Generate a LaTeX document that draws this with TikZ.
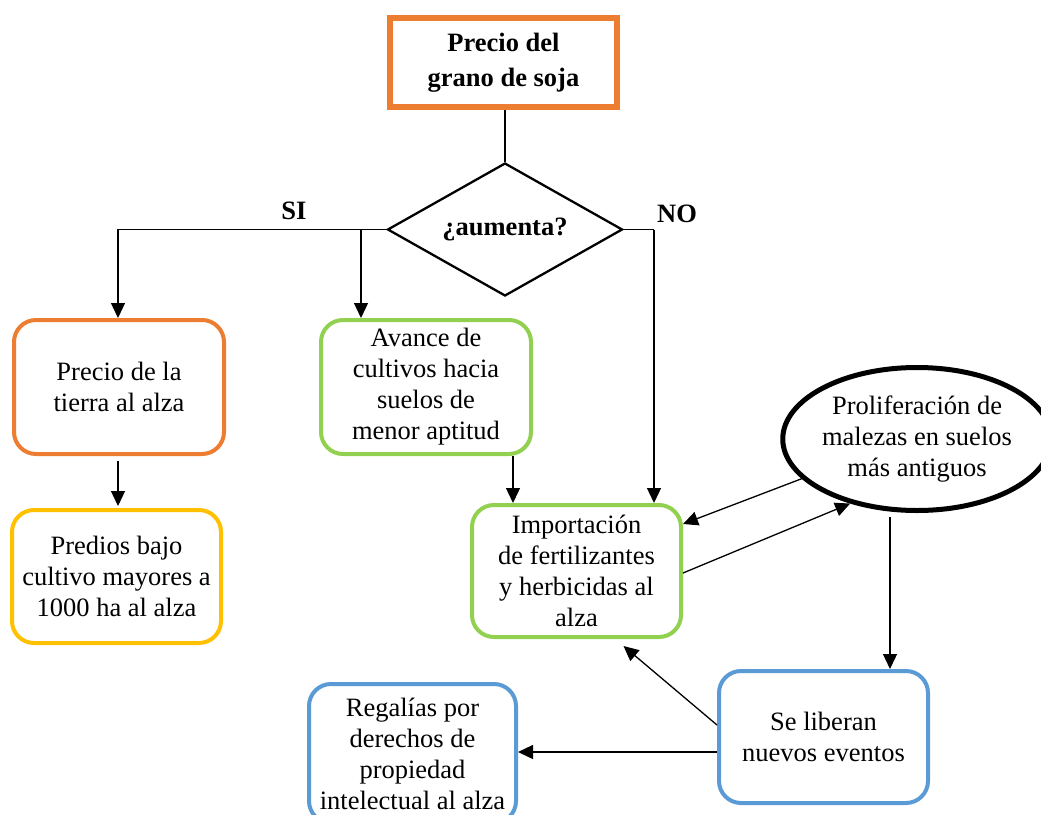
\documentclass[tikz,border=0pt]{standalone}
\usepackage{fontspec}
\setmainfont{Liberation Serif}
\usetikzlibrary{arrows.meta,shapes.geometric}
\definecolor{orng}{HTML}{ED7D31}
\definecolor{grn}{HTML}{92D050}
\definecolor{ylw}{HTML}{FFC000}
\definecolor{blu}{HTML}{5B9BD5}
\newcommand\mytxt{\fontsize{26.5}{31}\selectfont}
\newcommand\mybold{\fontsize{26.5}{35}\selectfont\bfseries}
\begin{document}
\begin{tikzpicture}[x=1pt,y=-1pt,
  rbox/.style={draw, line width=4pt, rounded corners=22pt, align=center, inner sep=0pt,
    font=\mytxt, minimum width=210pt, minimum height=134pt},
  conn/.style={line width=1.3pt, black},
  arr/.style={conn, -{Triangle[length=15pt,width=14pt]}},
  lbl/.style={font=\mybold, anchor=base, inner sep=0pt}]
\useasboundingbox[fill=white] (0,0) rectangle (1041,814);

% nodes
\node[draw=orng, line width=6pt, minimum width=227pt, minimum height=89pt, inner sep=0pt,
  align=center, font=\mybold] (top) at (503.5,62.5) {Precio del\\grano de soja};
\node[diamond, draw, line width=2.3pt, minimum width=235pt, minimum height=133pt, aspect=1.76,
  inner sep=0pt, font=\mybold] (dia) at (505,229.5) {¿aumenta?};
\node[rbox, draw=orng] (b1) at (119,387) {Precio de la\\tierra al alza};
\node[rbox, draw=ylw, minimum width=209pt, minimum height=133pt] (b3) at (116.5,576.5)
  {Predios bajo\\cultivo mayores a\\1000 ha al alza};
\node[rbox, draw=grn] (b2) at (426,387) {Avance de\\cultivos hacia\\suelos de\\menor aptitud};
\node[rbox, draw=grn, minimum width=209pt, minimum height=132pt] (imp) at (576.5,571)
  {Importación\\de fertilizantes\\y herbicidas al\\alza};
\node[ellipse, draw, line width=5pt, minimum width=267pt, minimum height=143pt, inner sep=0pt,
  align=center, font=\mytxt] (ell) at (917,439) {Proliferación de\\malezas en suelos\\más antiguos};
\node[rbox, draw=blu, minimum width=209pt, minimum height=132pt] (sl) at (823.5,737)
  {Se liberan\\nuevos eventos};
\node[rbox, draw=blu, minimum width=207pt, minimum height=139pt] (reg) at (412.5,753.5)
  {Regalías por\\derechos de\\propiedad\\intelectual al alza};

\node[lbl] (si) at (294,219) {SI};
\node[lbl] (no) at (677,222) {NO};

\coordinate (s2) at (361,229.5);
\coordinate (n1) at (654,229.5);

% connectors
\draw[conn] (dia.north |- top.south) -- (dia.north);
\draw[arr] (dia.west) -| ([xshift=-1pt]b1.north);
\draw[arr] (s2) -- (s2 |- b2.north);
\draw[conn] (dia.east) -- (n1);
\draw[arr] (n1) -- (n1 |- imp.north);
\draw[arr, shorten <=5pt, shorten >=2pt] ([xshift=-1pt]b1.south) -- ([xshift=-1pt]b1.south |- b3.north);
\draw[arr] ([xshift=87pt]b2.south) -- ([xshift=87pt]b2.south |- imp.north);
\draw[arr] (ell.199) -- ([yshift=-21pt]imp.north east);
\draw[arr] ([yshift=-2pt]imp.east) -- (ell.224);
\draw[arr, shorten <=4pt] ([xshift=-27pt]ell.south) -- ([xshift=-27pt]ell.south |- sl.north);
\draw[arr] ([yshift=12pt]sl.west) -- ([xshift=47pt,yshift=-7pt]imp.south);
\draw[arr] ([yshift=-15pt]sl.west) -- ([yshift=-15pt]sl.west -| reg.east);
\end{tikzpicture}
\end{document}
